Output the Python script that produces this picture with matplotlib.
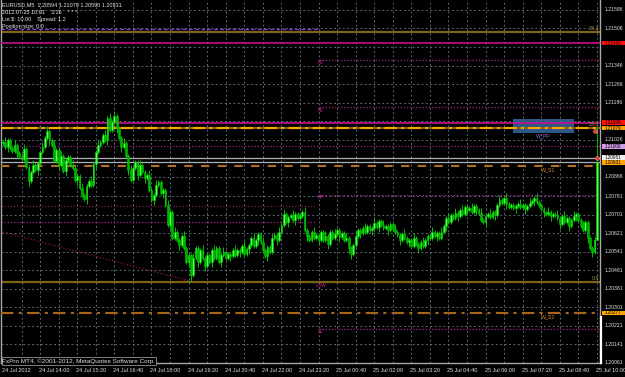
import matplotlib
matplotlib.use('Agg')
import matplotlib.pyplot as plt
import matplotlib.transforms as mtransforms
from matplotlib.patches import Rectangle
from matplotlib.lines import Line2D
import numpy as np

# ---------------- data ----------------
first_open = 1.21010
closes = [
    1.21016, 1.20994, 1.21024, 1.20990, 1.20977, 1.21003, 1.20968, 1.20955, 1.20942, 1.20985,
    1.20908, 1.20847, 1.20886, 1.20916, 1.20895, 1.20925, 1.20973, 1.20994, 1.21033, 1.21063,
    1.21024, 1.21003, 1.20934, 1.20981, 1.20916, 1.20955, 1.20890, 1.20938, 1.20951, 1.20916,
    1.20903, 1.20852, 1.20869, 1.20817, 1.20787, 1.20769, 1.20826, 1.20847, 1.20830, 1.20921,
    1.20973, 1.21003, 1.21016, 1.21046, 1.21024, 1.21119, 1.21068, 1.21102, 1.21128, 1.21076,
    1.21033, 1.20994, 1.21011, 1.20955, 1.20895, 1.20852, 1.20903, 1.20929, 1.20873, 1.20916,
    1.20886, 1.20860, 1.20873, 1.20808, 1.20765, 1.20787, 1.20830, 1.20843, 1.20795, 1.20808,
    1.20744, 1.20657, 1.20713, 1.20601, 1.20627, 1.20592, 1.20571, 1.20610, 1.20558, 1.20497,
    1.20528, 1.20441, 1.20515, 1.20558, 1.20497, 1.20549, 1.20515, 1.20480, 1.20528, 1.20497,
    1.20549, 1.20515, 1.20558, 1.20497, 1.20528, 1.20541, 1.20515, 1.20532, 1.20523, 1.20549,
    1.20528, 1.20549, 1.20541, 1.20566, 1.20532, 1.20553, 1.20571, 1.20601, 1.20566, 1.20592,
    1.20618, 1.20584, 1.20549, 1.20523, 1.20562, 1.20541, 1.20601, 1.20614, 1.20592, 1.20627,
    1.20657, 1.20705, 1.20670, 1.20692, 1.20700, 1.20679, 1.20705, 1.20687, 1.20696, 1.20713,
    1.20636, 1.20610, 1.20592, 1.20627, 1.20601, 1.20614, 1.20592, 1.20627, 1.20592, 1.20610,
    1.20575, 1.20627, 1.20601, 1.20618, 1.20636, 1.20605, 1.20623, 1.20592, 1.20601, 1.20558,
    1.20532, 1.20571, 1.20610, 1.20636, 1.20623, 1.20644, 1.20627, 1.20653, 1.20636, 1.20644,
    1.20666, 1.20649, 1.20674, 1.20657, 1.20644, 1.20653, 1.20636, 1.20661, 1.20640, 1.20627,
    1.20614, 1.20592, 1.20618, 1.20601, 1.20584, 1.20592, 1.20566, 1.20601, 1.20575, 1.20558,
    1.20584, 1.20566, 1.20592, 1.20610, 1.20601, 1.20627, 1.20610, 1.20623, 1.20601, 1.20627,
    1.20653, 1.20687, 1.20670, 1.20700, 1.20687, 1.20709, 1.20696, 1.20722, 1.20705, 1.20735,
    1.20722, 1.20731, 1.20713, 1.20739, 1.20722, 1.20709, 1.20679, 1.20670, 1.20696, 1.20705,
    1.20692, 1.20713, 1.20700, 1.20744, 1.20765, 1.20752, 1.20774, 1.20748, 1.20735, 1.20744,
    1.20731, 1.20739, 1.20748, 1.20735, 1.20744, 1.20726, 1.20739, 1.20752, 1.20761, 1.20774,
    1.20757, 1.20744, 1.20726, 1.20713, 1.20705, 1.20713, 1.20696, 1.20705, 1.20700, 1.20687,
    1.20661, 1.20696, 1.20670, 1.20687, 1.20653, 1.20679, 1.20696, 1.20705, 1.20679, 1.20653,
    1.20636, 1.20670, 1.20601, 1.20558, 1.20541, 1.20594, 1.20931,
]
# wick extensions above / below the body, in pips
wick_up_pips = [
    1, 2, 1, 1, 1, 2, 1, 1, 1, 2, 1, 1, 1, 2, 1, 1, 1, 2, 1, 2,
    1, 1, 2, 1, 1, 2, 1, 1, 1, 1, 2, 1, 1, 1, 2, 1, 1, 1, 2, 1,
    1, 2, 1, 1, 2, 1, 2, 1, 2, 1, 1, 1, 2, 1, 1, 2, 1, 1, 1, 2,
    1, 1, 1, 2, 1, 1, 2, 1, 1, 1, 1, 2, 1, 1, 2, 1, 1, 1, 2, 1,
    1, 1, 2, 1, 1, 1, 2, 1, 1, 1, 1, 2, 1, 1, 1, 2, 1, 1, 1, 1,
    2, 1, 1, 1, 2, 1, 1, 1, 2, 1, 1, 1, 2, 1, 1, 1, 2, 1, 1, 2,
    1, 2, 1, 1, 1, 2, 1, 1, 1, 1, 2, 1, 1, 1, 2, 1, 1, 1, 1, 2,
    1, 1, 1, 2, 1, 1, 1, 1, 2, 1, 1, 1, 2, 1, 1, 1, 2, 1, 1, 1,
    2, 1, 1, 1, 2, 1, 1, 1, 1, 2, 1, 1, 1, 2, 1, 1, 1, 2, 1, 1,
    1, 2, 1, 1, 1, 2, 1, 1, 1, 2, 1, 1, 2, 1, 1, 2, 1, 1, 2, 1,
    1, 1, 2, 1, 1, 1, 2, 1, 1, 1, 2, 1, 1, 1, 2, 1, 1, 2, 1, 1,
    1, 1, 1, 2, 1, 1, 1, 2, 1, 1, 2, 1, 1, 1, 1, 2, 1, 1, 1, 2,
    1, 1, 2, 1, 1, 1, 2, 1, 1, 1, 2, 1, 1, 1, 1, 1, 14.8,
]
wick_dn_pips = [
    1, 1, 2, 1, 1, 1, 2, 1, 1, 1, 1, 2, 1, 1, 1, 2, 1, 1, 1, 1,
    2, 1, 1, 1, 2, 1, 1, 2, 1, 1, 1, 1, 2, 1, 1, 1, 2, 1, 1, 1,
    2, 1, 1, 1, 1, 2, 1, 1, 1, 2, 1, 2, 1, 1, 2, 1, 1, 1, 2, 1,
    1, 2, 1, 1, 1, 2, 1, 1, 1, 2, 1, 1, 2, 1, 1, 1, 2, 1, 1, 1,
    2, 3, 1, 1, 2, 1, 1, 2, 1, 1, 2, 1, 1, 1, 2, 1, 1, 1, 2, 1,
    1, 1, 2, 1, 1, 1, 2, 1, 1, 1, 2, 1, 1, 1, 2, 1, 1, 1, 2, 1,
    1, 1, 1, 2, 1, 1, 2, 1, 1, 1, 1, 2, 1, 1, 1, 1, 2, 1, 1, 1,
    2, 1, 1, 1, 1, 2, 1, 1, 1, 2, 2, 1, 1, 1, 2, 1, 1, 1, 1, 2,
    1, 1, 2, 1, 1, 1, 2, 1, 1, 1, 1, 2, 1, 1, 1, 2, 1, 1, 1, 2,
    1, 1, 1, 2, 1, 1, 1, 2, 1, 1, 1, 2, 1, 1, 1, 1, 2, 1, 1, 1,
    2, 1, 1, 1, 2, 1, 1, 1, 2, 1, 1, 1, 2, 1, 1, 1, 1, 2, 1, 1,
    1, 2, 1, 1, 1, 2, 1, 1, 1, 2, 1, 1, 1, 2, 1, 1, 2, 1, 1, 1,
    2, 1, 1, 1, 2, 1, 1, 2, 1, 1, 1, 1, 2, 1, 2, 1, 0,
]

time_labels = ["24 Jul 2012", "24 Jul 14:00", "24 Jul 15:20", "24 Jul 16:40", "24 Jul 18:00",
               "24 Jul 19:20", "24 Jul 20:40", "24 Jul 22:00", "24 Jul 23:20", "25 Jul 00:40",
               "25 Jul 02:00", "25 Jul 03:20", "25 Jul 04:40", "25 Jul 06:00", "25 Jul 07:20",
               "25 Jul 08:40", "25 Jul 10:00"]
time_label_bars = [0, 16, 32, 48, 64, 80, 96, 112, 128, 144, 160, 176, 192, 208, 224, 240, 256]
vgrid_bars = list(range(8, 257, 8))

price_labels = ["1.21586", "1.21506", "1.21426", "1.21346", "1.21266", "1.21186", "1.21106",
                "1.21026", "1.20946", "1.20866", "1.20781", "1.20701", "1.20621", "1.20541",
                "1.20461", "1.20381", "1.20301", "1.20221", "1.20141", "1.20061"]

# fibonacci levels
fib_prices = [1.21491, 1.21078, 1.20411]
fib_labels = ["38.2", "23.6", "0.0"]
# full-width horizontal lines
magenta_lines = [1.21443, 1.21098]
orange_dashdot = [1.21076]
dotted_full = [1.20998]
gray_lines = [1.20947, 1.20929]
weekly_prices = [1.20912, 1.20277]
weekly_labels = ["W_S1", "W_S2"]
# previous-day levels (left of day start) and current-day levels
prev_day_purple = [1.21504]
prev_day_dotted = [1.20739, 1.20670]
day_start_bar = 136
cur_day_levels = [1.21370, 1.21167, 1.20787, 1.20208]
cur_day_label_prices = [1.21357, 1.21150, 1.20778, 1.20395, 1.20195]
cur_day_labels = ["R2", "R1", "PP", "LOW", "S2"]
# trend line
trend_bars = [0, 82]
trend_prices = [1.20627, 1.20411]
# rectangle (bars, prices)
box_bars = [220, 246]
box_prices = [1.21055, 1.21115]
box_label = "W_PP"
# alert markers
alert_bars = [255.2, 256.0]
alert_prices = [1.21063, 1.20947]
# right-axis price tags
tag_prices = [1.21443, 1.21100, 1.21076, 1.20998, 1.20949, 1.20927, 1.20277]
tag_texts = ["1.21443", "1.21099", "1.21079", "1.21000", "1.20951", "1.20931", "1.20277"]
tag_colors = ["#ff1010", "#ff1010", "#ffa500", "#d09ae8", "#f0f0f0", "#ffa500", "#ffa500"]

header_lines = ["EURUSD,M5  1.20594 1.21079 1.20590 1.20931",
                "2012.07.25 10:01    3:26    * * *",
                "Lot $: 10.00    Spread: 1.2",
                "Position size: 0.0"]
copyright_text = "FxPro MT4, \u00a92001-2012, MetaQuotes Software Corp."

# ---------------- layout ----------------
W, H = 625, 377
PX_PER_BAR = 2.32
X0 = 3
plt.rcParams['font.family'] = ['Liberation Sans', 'DejaVu Sans']
fig = plt.figure(figsize=(W / 100, H / 100), dpi=100, facecolor='black')
ax = fig.add_axes([1 / W, (H - 363) / H, 599 / W, 363 / H])
ax.set_facecolor('black')
ax.set_xlim((1 - X0) / PX_PER_BAR, (600 - X0) / PX_PER_BAR)
ax.set_ylim(1.20061, 1.21629)
ax.set_xticks([])
ax.set_yticks([])
for s in ['left', 'right', 'bottom']:
    ax.spines[s].set_color('#a8a8a8')
    ax.spines[s].set_linewidth(1.0)
ax.spines['top'].set_visible(False)

def fx(px):
    return px / W

def fy(py):
    return 1 - py / H

gridc = '#5a6878'
for p in price_labels:
    ax.axhline(float(p), color=gridc, lw=0.7, ls=(0, (2, 2.5)), zorder=1)
for b in vgrid_bars:
    ax.axvline(b, color=gridc, lw=0.7, ls=(0, (2, 2.5)), zorder=1)

# box
ax.add_patch(Rectangle((box_bars[0], box_prices[0]), box_bars[1] - box_bars[0],
                       box_prices[1] - box_prices[0], facecolor='#2f5d8e', edgecolor='none',
                       alpha=0.95, zorder=1.5))
ax.text((box_bars[0] + box_bars[1]) / 2, box_prices[0] - 0.00003, box_label, color='#a070d0',
        fontsize=3.8, ha='center', va='top', zorder=6)

nb = len(closes)
xmax = nb + 1
for p in prev_day_purple:
    ax.hlines(p, -1, day_start_bar, color='#8a3ad8', lw=0.9, ls=(0, (3, 2)), zorder=2)
for p, c in zip(prev_day_dotted, ['#7a1f50', '#a82078']):
    ax.hlines(p, -1, day_start_bar - 1, color=c, lw=0.9, ls=(0, (1, 1.5)), zorder=2)
for p in cur_day_levels:
    ax.hlines(p, day_start_bar, xmax, color='#a82078', lw=0.9, ls=(0, (1, 1.5)), zorder=2)
for p, t in zip(cur_day_label_prices, cur_day_labels):
    ax.text(day_start_bar + 1, p, t, color='#c0209a', fontsize=3.3, ha='center', va='center',
            zorder=6)

ax.plot(trend_bars, trend_prices, color='#8a1848', lw=0.9, ls=(0, (1, 1.5)), zorder=2)

for p in fib_prices:
    ax.axhline(p, color='#7d6418', lw=1.6, zorder=2.5)
for p, t in zip(fib_prices, fib_labels):
    ax.text(256.8, p + 0.00003, t, color='#b09838', fontsize=3.8, ha='right', va='bottom',
            zorder=6)
for p in magenta_lines:
    ax.axhline(p, color='#c4128a', lw=1.2, zorder=3)
for p in orange_dashdot:
    ax.axhline(p, color='#ffa500', lw=1.5, ls=(0, (6, 2, 1.5, 2)), zorder=3)
for p in dotted_full:
    ax.axhline(p, color='#9a2a80', lw=0.9, ls=(0, (1, 1.5)), zorder=2)
for p in gray_lines:
    ax.axhline(p, color='#b0b0b0', lw=0.9, zorder=3)
ax.axhline(weekly_prices[0], color='#b4701e', lw=1.5, ls=(0, (4, 4)), zorder=3)
ax.axhline(weekly_prices[1], color='#a8661a', lw=1.5, ls=(0, (6, 2.5, 1.5, 2.5)), zorder=3)
for p, t in zip(weekly_prices, weekly_labels):
    ax.text(235, p - 0.00004, t, color='#d08a2a', fontsize=3.8, ha='center', va='top', zorder=6)

# candles
o = np.array([first_open] + closes[:-1])
c = np.array(closes)
hi = np.maximum(o, c) + np.array(wick_up_pips) * 1e-4
lo = np.minimum(o, c) - np.array(wick_dn_pips) * 1e-4
idx = np.arange(nb)
up = c >= o
ax.vlines(idx, lo, hi, color='#00c000', lw=0.7, zorder=4)
ax.bar(idx[up], (c - o)[up], bottom=o[up], width=0.75, color='#55ff55', edgecolor='#00d000',
       lw=0.4, zorder=5)
ax.bar(idx[~up], (c - o)[~up], bottom=o[~up], width=0.75, color='#00b400', edgecolor='#00c800',
       lw=0.4, zorder=5)

ax.plot(alert_bars, alert_prices, 'o', ms=2.6, mfc='#ff2020', mec='#ff9090', mew=0.5,
        zorder=7, clip_on=False)

# axis labels (grid labels hidden behind coloured tags are not drawn)
trans = mtransforms.blended_transform_factory(ax.transAxes, ax.transData)
lx = (605 - 1) / 599
half_tag = 0.000105
for p in price_labels:
    v = float(p)
    if any(abs(v - tp) < 0.00018 for tp in tag_prices):
        continue
    ax.text(lx, v, p, color='#e0e0e0', fontsize=3.7, ha='left', va='center',
            transform=trans, clip_on=False)
bx0 = (602 - 1) / 599
bw = (625 - 602) / 599
for p, t, col in zip(tag_prices, tag_texts, tag_colors):
    ax.add_patch(Rectangle((bx0, p - half_tag), bw, 2 * half_tag, facecolor=col,
                           edgecolor='none', transform=trans, clip_on=False, zorder=8))
    ax.text(lx, p, t, color='black', fontsize=3.3, ha='left', va='center', transform=trans,
            clip_on=False, zorder=9)

fig.add_artist(Line2D([fx(601), fx(601)], [fy(317), fy(363)], color='white', lw=1.6))

for b, t in zip(time_label_bars, time_labels):
    xp = X0 + b * PX_PER_BAR - 1
    if b == 0:
        xp = 2
    fig.text(fx(xp), fy(370), t, color='#e0e0e0', fontsize=4.0, ha='left', va='center')

for i, t in enumerate(header_lines):
    fig.text(fx(2), fy(5 + i * 7.3), t, color='#e8e8e8', fontsize=4.0, ha='left', va='center')

fig.text(fx(2.5), fy(361), copyright_text, color='#e0e0e0', fontsize=4.6, ha='left',
         va='center', bbox=dict(facecolor='black', edgecolor='#909090', lw=0.6, pad=0.6))

fig.savefig('out.png', dpi=100, facecolor='black')
